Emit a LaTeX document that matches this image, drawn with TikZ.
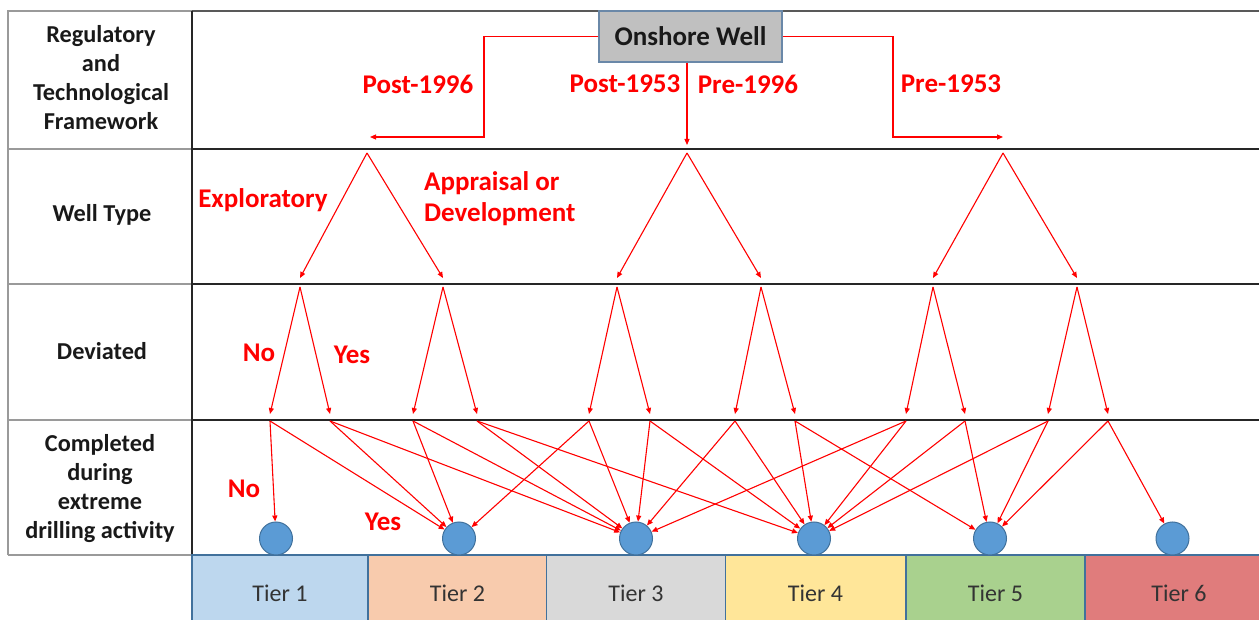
\documentclass[tikz,border=0pt]{standalone}
\usepackage{fontspec}
\setmainfont{Carlito}
\usetikzlibrary{arrows.meta}
\definecolor{rd}{HTML}{FF0000}
\definecolor{dotc}{HTML}{5B9BD5}
\definecolor{dotb}{HTML}{41719C}
\definecolor{tierb}{HTML}{41719C}
\definecolor{tA}{HTML}{BDD7EE}
\definecolor{tB}{HTML}{F8CBAD}
\definecolor{tC}{HTML}{D9D9D9}
\definecolor{tD}{HTML}{FFE699}
\definecolor{tE}{HTML}{A9D18E}
\definecolor{tF}{HTML}{E07C7C}
\definecolor{wellfill}{HTML}{C0C0C0}
\definecolor{wellb}{HTML}{6A88A8}
\definecolor{ttxt}{HTML}{333333}
\definecolor{gridg}{HTML}{9A9A9A}
\begin{document}
\begin{tikzpicture}[x=1pt,y=-1pt,
  arr/.style={draw=rd, line width=1.1pt, -{Triangle[length=6pt,width=5pt]}},
  lbl/.style={text=rd, font=\fontsize{27}{31}\selectfont\bfseries, inner sep=0},
  hdr/.style={text=black!90, font=\fontsize{24.3}{29}\selectfont\bfseries, align=center, inner sep=0},
  dot/.style={circle, fill=dotc, draw=dotb, line width=1pt, minimum size=33pt, inner sep=0},
  tierbox/.style={draw=tierb, line width=1.2pt, minimum height=76pt, inner sep=0, text=ttxt, font=\fontsize{24}{28}\selectfont},
  gridb/.style={draw=black!85, line width=1.5pt},
  gridl/.style={draw=gridg, line width=1.5pt}]
\clip (0,0) rectangle (1259,620);
\fill[white] (0,0) rectangle (1259,620);
% grid
\draw[gridl] (8,555) -- (8,11) -- (192,11);
\draw[gridl] (8,149) -- (192,149);
\draw[gridl] (8,284) -- (192,284);
\draw[gridl] (8,420) -- (192,420);
\draw[gridl] (8,555) -- (192,555);
\draw[draw=black!65, line width=1.5pt] (192,11) -- (1262,11);
\draw[gridb] (192,149) -- (1262,149);
\draw[gridb] (192,284) -- (1262,284);
\draw[gridb] (192,420) -- (1262,420);
\draw[gridb] (192,555) -- (1262,555);
\draw[gridb] (192,11) -- (192,555);
% tier boxes
\node[tierbox, fill=tA, minimum width=176pt] (T1) at (280,593) {Tier 1};
\node[tierbox, fill=tB, minimum width=178pt] (T2) at (457.5,593) {Tier 2};
\node[tierbox, fill=tC, minimum width=179pt] (T3) at (636,593) {Tier 3};
\node[tierbox, fill=tD, minimum width=180pt] (T4) at (815.5,593) {Tier 4};
\node[tierbox, fill=tE, minimum width=179pt] (T5) at (995.5,593) {Tier 5};
\node[tierbox, fill=tF, minimum width=188pt] (T6) at (1179,593) {Tier 6};
% header texts
\node[hdr] (h1) at (101,78) {Regulatory\\and\\Technological\\Framework};
\node[hdr] (h2) at (102,215) {Well Type};
\node[hdr] (h3) at (102,351) {Deviated};
\node[hdr] (h4) at (100,489) {Completed\\during\\extreme\\drilling activity};
% onshore well
\node[draw=wellb, fill=wellfill, line width=1.2pt, minimum width=183pt, minimum height=51pt, inner sep=0,
  font=\fontsize{27}{30}\selectfont\bfseries, text=black!90] (well) at (690.5,36.5) {Onshore Well};
\coordinate (k1) at (484,137);
\coordinate (t1) at (370,137);
\coordinate (k3) at (893,137);
\coordinate (t3) at (1003,137);
\coordinate (t2) at (687,145);
\draw[arr] (well.west) -| (k1) -- (t1);
\draw[arr] (well.east) -| (k3) -- (t3);
\draw[arr] (t2 |- well.south) -- (t2);
% labels
\node[lbl] (l1) at (418,84) {Post-1996};
\node[lbl] (l2) at (625,84) {Post-1953};
\node[lbl] (l3) at (748,84) {Pre-1996};
\node[lbl] (l4) at (951,84) {Pre-1953};
\node[lbl] (l5) at (263,200) {Exploratory};
\node[lbl, align=left, anchor=west] (l6) at (424,198.5) {Appraisal or\\Development};
\node[lbl] (l7) at (259,353) {No};
\node[lbl] (l8) at (352,355) {Yes};
\node[lbl] (l9) at (244,489) {No};
\node[lbl] (l10) at (383,522) {Yes};
% well type level
\foreach \x [count=\i] in {367,687,1003} \coordinate (a\i) at (\x,153);
\foreach \x [count=\i] in {300,443,617,761,933,1077} {
  \coordinate (q\i) at (\x,278);
  \coordinate (p\i) at (\x,287);
}
\foreach \x [count=\i] in {270,330,413,477,589,650,735,795,906,965,1048,1108} {
  \coordinate (e\i) at (\x,414);
  \coordinate (s\i) at (\x,421);
}
\foreach \i in {1,2,3} {
  \pgfmathtruncatemacro{\ja}{2*\i-1}
  \pgfmathtruncatemacro{\jb}{2*\i}
  \draw[arr] (a\i) -- (q\ja);
  \draw[arr] (a\i) -- (q\jb);
}
\foreach \i in {1,...,6} {
  \pgfmathtruncatemacro{\ja}{2*\i-1}
  \pgfmathtruncatemacro{\jb}{2*\i}
  \draw[arr] (p\i) -- (e\ja);
  \draw[arr] (p\i) -- (e\jb);
}
% circles
\foreach \x [count=\i] in {276,459,636,814,990,1172.5}
  \node[dot] (c\i) at (\x,538.5) {};
\foreach \s/\t in {1/1,1/2,2/2,2/3,3/2,3/3,4/3,4/4,5/2,5/3,6/3,6/4,7/3,7/4,8/4,8/5,9/3,9/4,10/4,10/5,11/4,11/5,12/5,12/6}
  \draw[arr] (s\s) -- (c\t);
\end{tikzpicture}
\end{document}
